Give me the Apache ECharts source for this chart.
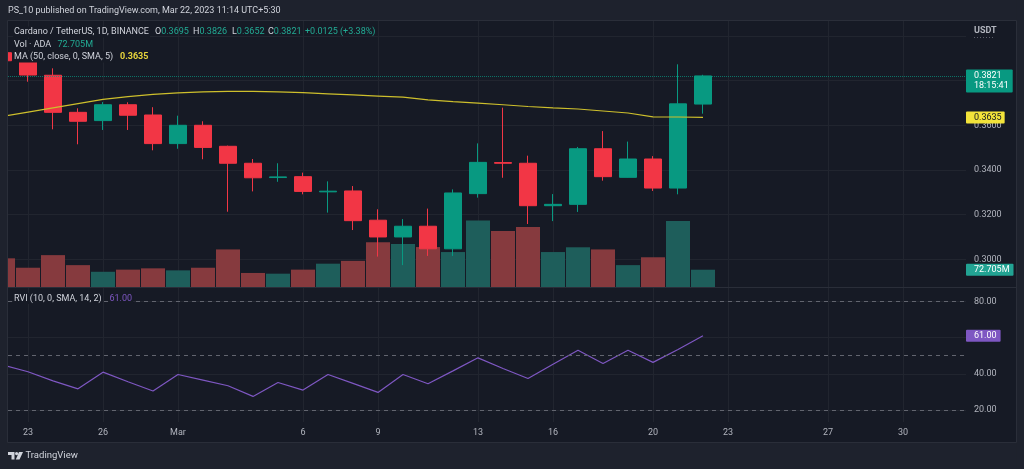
<!DOCTYPE html>
<html><head><meta charset="utf-8">
<script src="https://cdn.jsdelivr.net/npm/echarts@6/dist/echarts.min.js"></script>
<style>html,body{margin:0;padding:0;background:#1e222d}#c{width:1024px;height:469px}</style>
</head><body><div id="c"></div>
<script>
// ---- data (daily candles, Feb 22 .. Mar 22, 2023) ----
const dates = ['2023-02-22','2023-02-23','2023-02-24','2023-02-25','2023-02-26','2023-02-27','2023-02-28',
  '2023-03-01','2023-03-02','2023-03-03','2023-03-04','2023-03-05','2023-03-06','2023-03-07','2023-03-08',
  '2023-03-09','2023-03-10','2023-03-11','2023-03-12','2023-03-13','2023-03-14','2023-03-15','2023-03-16',
  '2023-03-17','2023-03-18','2023-03-19','2023-03-20','2023-03-21','2023-03-22'];
const opens  = [0.3925,0.3889,0.3824,0.3658,0.3621,0.3692,0.3646,0.3518,0.3600,0.3506,0.3430,0.3366,0.3370,0.3302,0.3306,
  0.3175,0.3100,0.3148,0.3047,0.3294,0.3433,0.3430,0.3240,0.3246,0.3495,0.3367,0.3449,0.3319,0.3695];
const closes = [0.3889,0.3825,0.3658,0.3618,0.3692,0.3645,0.3518,0.3600,0.3501,0.3430,0.3365,0.3369,0.3304,0.3305,0.3173,
  0.3100,0.3148,0.3047,0.3297,0.3434,0.3430,0.3240,0.3246,0.3495,0.3370,0.3449,0.3319,0.3696,0.3821];
const lows   = [0.3870,0.3795,0.3582,0.3515,0.3579,0.3579,0.3488,0.3495,0.3448,0.3213,0.3304,0.3347,0.3291,0.3209,0.3131,
  0.3012,0.2974,0.3015,0.3015,0.3276,0.3365,0.3158,0.3171,0.3212,0.3352,0.3366,0.3306,0.3291,0.3652];
const highs  = [0.3960,0.3915,0.3855,0.3676,0.3704,0.3703,0.3681,0.3643,0.3618,0.3509,0.3449,0.3430,0.3388,0.3349,0.3328,
  0.3224,0.3180,0.3227,0.3313,0.3519,0.3679,0.3464,0.3292,0.3503,0.3574,0.3527,0.3462,0.3873,0.3826];
const volumesM = [120.6,81,134,92,64,73,78.5,70,81,158,59,56,73,98,110,188,181,168,147,280,235,252,147,167,158,92,125,277,72.705];
const maValues = [0.3640,0.3659,0.3678,0.3697,0.3716,0.3728,0.3738,0.3745,0.3750,0.3752,0.3752,0.3750,0.3746,0.3741,0.3736,
  0.3731,0.3726,0.3714,0.3706,0.3699,0.3692,0.3684,0.3678,0.3673,0.3664,0.3655,0.3638,0.3637,0.3635];
const rviValues = [44.8,41.1,36.1,31.7,40.9,35.6,30.5,39.6,36.5,33.4,27.5,35.2,31.0,39.6,34.7,
  29.7,39.6,34.5,41.6,48.8,42.9,37.4,45.3,53.0,45.7,53.0,46.3,53.4,61.0];
// time-axis labels (day offsets from Feb 22)
const tickDays   = [1,4,7,12,15,19,22,26,29,33,36];
const tickLabels = ['23','26','Mar','6','9','13','16','20','23','27','30'];
const priceTicks  = [0.30,0.32,0.34,0.36,0.38,0.40];
const priceLabels = [0.30,0.32,0.34,0.36];
const rviTicks  = [20,40,60,80];
const rviLabels = [20,40,80];
const rviBands  = [80,50,20];
const countdown = '18:15:41';

// ---- style ----
const G='#089981', R='#f23645', VG='#1e5e5b', VR='#863a3e';
const TXT='#d1d4dc', AX='#b2b5be', GRID='#21252f', BG='#161a25', OUT='#1e222d', FR='#2a2e39';
const FONT='Roboto';
const L=8, RIGHT=58, XMIN=0.2, XMAX=38.52;
const NOLINE = {color:'rgba(0,0,0,0)', width:0};

const n = dates.length, last = n-1;
const candle = dates.map((d,i)=>[i, opens[i], closes[i], lows[i], highs[i]]);
const vol = dates.map((d,i)=>({value:[i, volumesM[i]*1e6], itemStyle:{color: closes[i]>=opens[i]?VG:VR}}));
const ma = dates.map((d,i)=>[i, maValues[i]]);
const rvi = dates.map((d,i)=>[i, rviValues[i]]);

const chg = closes[last]-closes[last-1];
const pct = chg/closes[last-1]*100;
const fmt4 = v=>v.toFixed(4);

function xAx(grid, extra){
  return Object.assign({type:'value', gridIndex:grid, min:XMIN, max:XMAX,
    axisLine:{show:false}, axisTick:{show:false, customValues:tickDays},
    axisLabel:{show:false}, splitLine:{show:true, lineStyle:{color:GRID, width:1}}}, extra||{});
}
function boxLabel(text, bg, fg, pad, extra){
  return Object.assign({show:true, position:'end', distance:0, formatter:text, backgroundColor:bg, color:fg,
    fontSize:9, fontFamily:FONT, padding:pad, lineHeight:9, borderRadius:1, align:'left', opacity:1}, extra||{});
}
function t(x,y,text,fill,extra){
  return {type:'text', x:x, y:y, silent:true, z:50,
    style:Object.assign({text:text, fill:fill, fontSize:9, fontFamily:FONT, verticalAlign:'middle'}, extra||{})};
}
const legBg = {backgroundColor:BG, padding:[1,1]};
const rich = {a:{fill:TXT,fontSize:9,fontFamily:FONT}, b:{fill:'#22ab94',fontSize:9,fontFamily:FONT}};

const option = {
  backgroundColor: BG,
  animation:false,
  grid:[
    {left:L, right:RIGHT, top:21, height:266, outerBoundsMode:'none', containLabel:false},
    {left:L, right:RIGHT, top:160, height:127, outerBoundsMode:'none', containLabel:false},
    {left:L, right:RIGHT, top:287, height:135, outerBoundsMode:'none', containLabel:false}
  ],
  xAxis:[
    xAx(0),
    xAx(1, {splitLine:{show:false}}),
    xAx(2, {axisLabel:{show:true, customValues:tickDays, color:AX, fontSize:9, fontFamily:FONT, margin:6,
      formatter:v=>tickLabels[tickDays.indexOf(Math.round(v))]}})
  ],
  yAxis:[
    {type:'value', gridIndex:0, position:'right', min:0.2876, max:0.40669,
      axisLine:{show:false}, axisTick:{show:false, customValues:priceTicks},
      splitLine:{show:true, lineStyle:{color:GRID}},
      axisLabel:{customValues:priceLabels, formatter:v=>v.toFixed(4), color:AX, fontSize:9, fontFamily:FONT, margin:8}},
    {type:'value', gridIndex:1, min:0, max:534e6, show:false, splitLine:{show:false}},
    {type:'value', gridIndex:2, position:'right', min:13.38, max:87.89,
      axisLine:{show:false}, axisTick:{show:false, customValues:rviTicks},
      splitLine:{show:true, lineStyle:{color:GRID}},
      axisLabel:{customValues:rviLabels, formatter:v=>v.toFixed(2), color:AX, fontSize:9, fontFamily:FONT, margin:8}}
  ],
  series:[
    {type:'bar', name:'Vol', xAxisIndex:1, yAxisIndex:1, data:vol, barWidth:24, z:1, silent:true,
      markLine:{symbol:['none','none'], silent:true, animation:false, precision:6,
        data:[{yAxis:volumesM[last]*1e6}], lineStyle:NOLINE,
        label:boxLabel(volumesM[last].toFixed(3)+'M', '#22a393', '#ffffff', [1.5,4,1.5,8])}},
    {type:'candlestick', name:'ADAUSDT', xAxisIndex:0, yAxisIndex:0, data:candle, barWidth:18, z:3, silent:true,
      encode:{x:0, y:[1,2,3,4]},
      itemStyle:{color:G, color0:R, borderColor:G, borderColor0:R, borderWidth:1},
      markLine:{symbol:['none','none'], silent:true, animation:false, precision:6,
        data:[{yAxis:closes[last]}], lineStyle:{type:'dotted', color:G, opacity:0.7, width:1},
        label:boxLabel(fmt4(closes[last])+'\n'+countdown, G, '#ffffff', [1.5,4,1.5,8], {lineHeight:10, offset:[0,5]})}},
    {type:'line', name:'MA', xAxisIndex:0, yAxisIndex:0, data:ma, showSymbol:false, z:4, silent:true,
      lineStyle:{color:'#cdbf2c', width:1.2},
      markLine:{symbol:['none','none'], silent:true, animation:false, precision:6,
        data:[{yAxis:maValues[last]}], lineStyle:NOLINE,
        label:boxLabel(fmt4(maValues[last]), '#f2e33a', '#131722', [1.5,3,1.5,8])}},
    {type:'line', name:'RVI', xAxisIndex:2, yAxisIndex:2, data:rvi, showSymbol:false, z:4, silent:true,
      lineStyle:{color:'#7e57c2', width:1.2},
      markLine:{symbol:['none','none'], silent:true, animation:false, precision:6,
        lineStyle:{type:[4,4], color:'#62656f', width:1},
        label:{show:false},
        data: rviBands.map(v=>({yAxis:v})).concat([{yAxis:rviValues[last], lineStyle:NOLINE,
          label:boxLabel(rviValues[last].toFixed(2), '#7e57c2', '#ffffff', [1.5,4,1.5,8])}])}}
  ],
  graphic:[
    // outer frame areas (drawn above clipped marks)
    {type:'rect', z:100, shape:{x:0,y:0,width:1024,height:20.5}, style:{fill:OUT}, silent:true},
    {type:'rect', z:100, shape:{x:0,y:442.5,width:1024,height:27}, style:{fill:OUT}, silent:true},
    {type:'rect', z:100, shape:{x:0,y:0,width:7.5,height:469}, style:{fill:OUT}, silent:true},
    {type:'rect', z:100, shape:{x:1016.5,y:0,width:8,height:469}, style:{fill:OUT}, silent:true},
    {type:'rect', z:101, shape:{x:7.5,y:20.5,width:1009,height:422}, style:{fill:null, stroke:FR, lineWidth:1}, silent:true},
    {type:'line', z:101, shape:{x1:8,y1:287.5,x2:1016,y2:287.5}, style:{stroke:FR, lineWidth:1}, silent:true},
    // header
    Object.assign(t(8, 10.5, 'PS_10 published on TradingView.com, Mar 22, 2023 11:14 UTC+5:30', TXT, {fontSize:9}), {z:102}),
    // legends
    t(13, 32, 'Cardano / TetherUS, 1D, BINANCE', TXT, legBg),
    t(155, 32, '{a|O}{b|'+fmt4(opens[last])+'}', TXT, {rich:rich}),
    t(193, 32, '{a|H}{b|'+fmt4(highs[last])+'}', TXT, {rich:rich}),
    t(232, 32, '{a|L}{b|'+fmt4(lows[last])+'}', TXT, {rich:rich}),
    t(268, 32, '{a|C}{b|'+fmt4(closes[last])+'}', TXT, {rich:rich}),
    t(305, 32, '+'+fmt4(chg)+' (+'+pct.toFixed(2)+'%)', '#22ab94'),
    t(13, 44.5, 'Vol · ADA', TXT, legBg),
    t(56.5, 44.5, volumesM[last].toFixed(3)+'M', '#22ab94', legBg),
    t(13, 57, 'MA (50, close, 0, SMA, 5)', TXT, legBg),
    t(119, 57, fmt4(maValues[last]), '#e6d43c', Object.assign({fontWeight:'bold'}, legBg)),
    t(13, 298.5, 'RVI (10, 0, SMA, 14, 2)', TXT, legBg),
    t(108.5, 298.5, rviValues[last].toFixed(2), '#7e57c2', legBg),
    // price scale unit
    t(974, 30.5, 'USDT', AX, {fontWeight:'bold'}),
    {type:'line', z:50, shape:{x1:974,y1:37.5,x2:995,y2:37.5}, style:{stroke:'#5d606b', lineWidth:1, lineDash:[1,2]}, silent:true},
    // footer logo
    {type:'polygon', z:102, shape:{points:[[8,452],[14.5,452],[14.5,459.5],[11.5,459.5],[11.5,455],[8,455]]}, style:{fill:TXT}, silent:true},
    {type:'circle', z:102, shape:{cx:16.6,cy:453.6,r:1.6}, style:{fill:TXT}, silent:true},
    {type:'polygon', z:102, shape:{points:[[19,452],[23,452],[19.5,459.5],[15.8,459.5]]}, style:{fill:TXT}, silent:true},
    Object.assign(t(25.5, 456, 'TradingView', TXT, {fontSize:9.5}), {z:102})
  ]
};
const chart = echarts.init(document.getElementById('c'), null, {renderer:'canvas'});
chart.setOption(option);
</script>
</body></html>
